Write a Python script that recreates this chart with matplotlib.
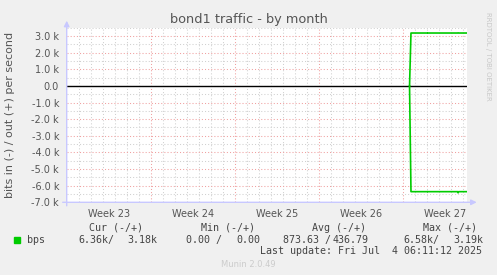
import numpy as np
import matplotlib
matplotlib.use('Agg')
import matplotlib.pyplot as plt
from matplotlib.ticker import FuncFormatter

# data (days since start of week 23, bits per second)
days = [28.57, 28.69, 30.00, 30.05, 30.10, 32.58, 32.62, 32.66, 33.30]
out_bps = [0, 3180, 3180, np.nan, 3180, 3180, 3190, 3180, 3180]
in_bps = [0, -6360, -6360, np.nan, -6360, -6360, -6430, -6360, -6360]

week_labels = ['Week 23', 'Week 24', 'Week 25', 'Week 26', 'Week 27']

legend_cols = ['Cur (-/+)', 'Min (-/+)', 'Avg (-/+)', 'Max (-/+)']
legend_in = ['6.36k/', '0.00 /', '873.63 /', '6.58k/']
legend_out = ['3.18k', '0.00', '436.79', '3.19k']

W, H = 497, 275
fig = plt.figure(figsize=(W / 100, H / 100), dpi=100)
fig.patch.set_facecolor('#f0f0f0')

x0, x1, y0, y1 = 66.7, 466.7, 27.7, 202.3
ax = fig.add_axes([x0 / W, 1 - y1 / H, (x1 - x0) / W, (y1 - y0) / H])
ax.set_facecolor('white')
ax.set_xlim(0, 400 / 12)
ax.set_ylim(-7000, 3500)

for s in ax.spines.values():
    s.set_visible(False)

# grid
dots = (0, (1, 2))
for d in np.arange(1, 34):
    if d % 7 == 0:
        ax.axvline(d, color='#f0a0a0', lw=0.75, ls=dots, zorder=1)
    else:
        ax.axvline(d, color='#d0d0d0', lw=0.75, ls=dots, zorder=1)
for v in np.arange(-6500, 3501, 500):
    if v % 1000 == 0:
        ax.axhline(v, color='#f0a0a0', lw=0.75, ls=dots, zorder=1)
    else:
        ax.axhline(v, color='#d0d0d0', lw=0.75, ls=dots, zorder=1)

ax.axhline(0, color='black', lw=1.0, zorder=2)

ax.plot(days, out_bps, color='#00cc00', lw=1.2, zorder=3)
ax.plot(days, in_bps, color='#00cc00', lw=1.2, zorder=3)

# axes with arrows
acol = '#c8c8ff'
ax.annotate('', xy=(1.025, 0), xytext=(-0.01, 0), xycoords='axes fraction',
            arrowprops=dict(arrowstyle='-|>', color=acol, lw=1, mutation_scale=8,
                            shrinkA=0, shrinkB=0), annotation_clip=False)
ax.annotate('', xy=(0, 1.04), xytext=(0, -0.02), xycoords='axes fraction',
            arrowprops=dict(arrowstyle='-|>', color=acol, lw=1, mutation_scale=8,
                            shrinkA=0, shrinkB=0), annotation_clip=False)

ax.set_yticks([v for v in range(-7000, 3001, 1000)])
ax.yaxis.set_major_formatter(FuncFormatter(
    lambda v, p: '0.0' if v == 0 else '%.1f k' % (v / 1000)))
ax.set_xticks([3.5 + 7 * i for i in range(len(week_labels))])
ax.set_xticklabels(week_labels)
ax.tick_params(axis='both', length=0, labelsize=7, colors='#555555')
ax.tick_params(axis='y', pad=5.5)
ax.tick_params(axis='x', pad=5)

fig.text(10 / W, 1 - 115 / H, 'bits in (-) / out (+) per second', ha='center', va='center',
         rotation=90, fontsize=8, color='#555555')
fig.text(248.5 / W, 1 - 19 / H, 'bond1 traffic - by month', ha='center', va='center',
         fontsize=9.3, color='#555555')
fig.text(488 / W, 1 - 56 / H, 'RRDTOOL / TOBI OETIKER', ha='center', va='center',
         rotation=-90, fontsize=5, color='#c8c8c8')

# legend
mono = 'DejaVu Sans Mono'
tcol = '#444444'
fs = 7.2
col_x = [89.3, 201, 312.3, 422.7]
for x, lab in zip(col_x, legend_cols):
    fig.text(x / W, 1 - 228 / H, lab, ha='left', va='center', family=mono, fontsize=fs, color=tcol)

fig.patches.append(plt.Rectangle((14 / W, 1 - 242.5 / H), 6 / W, 6 / H,
                                 transform=fig.transFigure, color='#00cc00'))
fig.text(26.7 / W, 1 - 240 / H, 'bps', ha='left', va='center', family=mono, fontsize=fs, color=tcol)
in_x = [78.3, 186, 283.3, 403.3]
out_x = [157.3, 260.7, 369, 483]
for xa, xb, a, b in zip(in_x, out_x, legend_in, legend_out):
    fig.text(xa / W, 1 - 240 / H, a, ha='left', va='center', family=mono, fontsize=fs, color=tcol)
    fig.text(xb / W, 1 - 240 / H, b, ha='right', va='center', family=mono, fontsize=fs, color=tcol)

fig.text(482.3 / W, 1 - 251 / H, 'Last update: Fri Jul  4 06:11:12 2025', ha='right', va='center',
         family=mono, fontsize=fs, color=tcol)
fig.text(248.5 / W, 1 - 264.3 / H, 'Munin 2.0.49', ha='center', va='center',
         fontsize=6, color='#cccccc')

fig.savefig('out.png', dpi=100, facecolor=fig.get_facecolor())
